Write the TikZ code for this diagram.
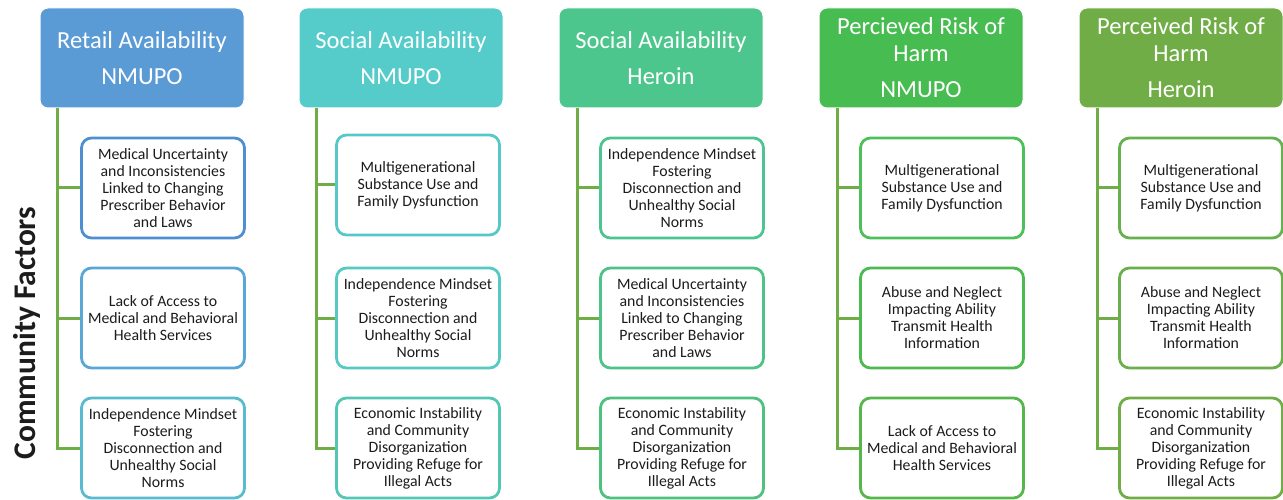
\documentclass[tikz,border=0pt]{standalone}
\usepackage{fontspec}
\setmainfont{Carlito}
\usepackage{xcolor}
\definecolor{hdA}{HTML}{5B9BD5}
\definecolor{hdB}{HTML}{56CCCA}
\definecolor{hdC}{HTML}{4DC68E}
\definecolor{hdD}{HTML}{47BC50}
\definecolor{hdE}{HTML}{70AD47}
\definecolor{bdA1}{HTML}{4D8FD0}
\definecolor{bdA2}{HTML}{58A7D7}
\definecolor{bdA3}{HTML}{58BBCF}
\definecolor{bdB1}{HTML}{56C8CA}
\definecolor{bdB2}{HTML}{55CAC2}
\definecolor{bdB3}{HTML}{52C8B4}
\definecolor{bdC1}{HTML}{4CC592}
\definecolor{bdC2}{HTML}{4DC388}
\definecolor{bdC3}{HTML}{4EC17F}
\definecolor{bdD1}{HTML}{4EC05A}
\definecolor{bdD2}{HTML}{4DBA50}
\definecolor{bdD3}{HTML}{55B64A}
\definecolor{bdE1}{HTML}{64B14E}
\definecolor{bdE2}{HTML}{6AAF4B}
\definecolor{bdE3}{HTML}{70AD47}
\definecolor{txt}{HTML}{1C1C1C}

\begin{document}
\begin{tikzpicture}[x=1pt, y=-1pt,
    header/.style={rectangle, rounded corners=8pt, draw=white, line width=1pt, text=white,
      minimum width=204pt, minimum height=100pt, align=center, inner sep=0pt,
      font=\fontsize{24.5}{27}\selectfont},
    item/.style={rectangle, rounded corners=10pt, fill=white, line width=2.8pt, text=txt,
      minimum width=163pt, minimum height=100pt, align=center, inner sep=0pt,
      font=\fontsize{15.8}{17}\selectfont},
    branch/.style={draw=hdE, line width=3pt}]
    \useasboundingbox (0,0) rectangle (1283,500);

    % side title
    \node[rotate=90, font=\bfseries\fontsize{31.5}{33}\selectfont, text=txt] (cf) at (27,333) {Community Factors};

    % headers
    \node[header, fill=hdA] (h1) at (142,58) {Retail Availability\\[9pt]NMUPO};
    \node[header, fill=hdB] (h2) at (401,58) {Social Availability\\[9pt]NMUPO};
    \node[header, fill=hdC] (h3) at (661,58) {Social Availability\\[9pt]Heroin};
    \node[header, fill=hdD] (h4) at (921,58) {Percieved Risk of\\Harm\\[9pt]NMUPO};
    \node[header, fill=hdE] (h5) at (1181,58) {Perceived Risk of\\Harm\\[9pt]Heroin};

    % first column
    \node[item, draw=bdA1] (c11) at (163,188) {Medical Uncertainty\\and Inconsistencies\\Linked to Changing\\Prescriber Behavior\\and Laws};
    \node[item, draw=bdA2] (c12) at (163,318) {Lack of Access to\\Medical and Behavioral\\Health Services};
    \node[item, draw=bdA3] (c13) at (163,448) {Independence Mindset\\Fostering\\Disconnection and\\Unhealthy Social\\Norms};

    % second column
    \node[item, draw=bdB1] (c21) at (418,185) {Multigenerational\\Substance Use and\\Family Dysfunction};
    \node[item, draw=bdB2] (c22) at (418,318) {Independence Mindset\\Fostering\\Disconnection and\\Unhealthy Social\\Norms};
    \node[item, draw=bdB3] (c23) at (418,448) {Economic Instability\\and Community\\Disorganization\\Providing Refuge for\\Illegal Acts};

    % third column
    \node[item, draw=bdC1] (c31) at (682,188) {Independence Mindset\\Fostering\\Disconnection and\\Unhealthy Social\\Norms};
    \node[item, draw=bdC2] (c32) at (682,318) {Medical Uncertainty\\and Inconsistencies\\Linked to Changing\\Prescriber Behavior\\and Laws};
    \node[item, draw=bdC3] (c33) at (682,448) {Economic Instability\\and Community\\Disorganization\\Providing Refuge for\\Illegal Acts};

    % fourth column
    \node[item, draw=bdD1] (c41) at (942,188) {Multigenerational\\Substance Use and\\Family Dysfunction};
    \node[item, draw=bdD2] (c42) at (942,318) {Abuse and Neglect\\Impacting Ability\\Transmit Health\\Information};
    \node[item, draw=bdD3] (c43) at (942,448) {Lack of Access to\\Medical and Behavioral\\Health Services};

    % fifth column
    \node[item, draw=bdE1] (c51) at (1201,188) {Multigenerational\\Substance Use and\\Family Dysfunction};
    \node[item, draw=bdE2] (c52) at (1201,318) {Abuse and Neglect\\Impacting Ability\\Transmit Health\\Information};
    \node[item, draw=bdE3] (c53) at (1201,448) {Economic Instability\\and Community\\Disorganization\\Providing Refuge for\\Illegal Acts};

    % trunk points under the headers
    \coordinate (t1) at (57,108);
    \coordinate (t2) at (316,108);
    \coordinate (t3) at (577,108);
    \coordinate (t4) at (837,108);
    \coordinate (t5) at (1097,108);

    % connectors
    \draw[branch] (t1) |- (c11.west) (t1) |- (c12.west) (t1) |- (c13.west);
    \draw[branch] (t2) |- (c21.west) (t2) |- (c22.west) (t2) |- (c23.west);
    \draw[branch] (t3) |- (c31.west) (t3) |- (c32.west) (t3) |- (c33.west);
    \draw[branch] (t4) |- (c41.west) (t4) |- (c42.west) (t4) |- (c43.west);
    \draw[branch] (t5) |- (c51.west) (t5) |- (c52.west) (t5) |- (c53.west);
\end{tikzpicture}
\end{document}
